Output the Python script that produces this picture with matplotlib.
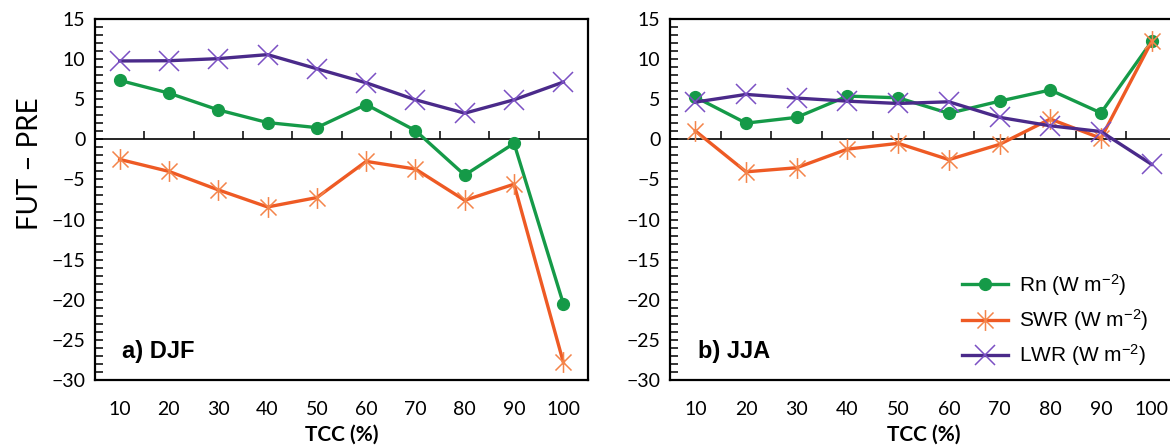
import matplotlib
matplotlib.use("Agg")
import matplotlib.pyplot as plt
from matplotlib.path import Path
from matplotlib.ticker import MultipleLocator

plt.rcParams['font.family'] = ['Lato', 'DejaVu Sans']
plt.rcParams['mathtext.fontset'] = 'custom'
plt.rcParams['mathtext.rm'] = 'Liberation Sans'
plt.rcParams['mathtext.it'] = 'Liberation Sans:italic'

# cloud cover bins
tcc = [10, 20, 30, 40, 50, 60, 70, 80, 90, 100]

# a) DJF
djf_rn = [7.35, 5.76, 3.67, 2.09, 1.46, 4.34, 1.09, -4.46, -0.5, -20.5]
djf_swr = [-2.5, -4.0, -6.3, -8.43, -7.26, -2.75, -3.7, -7.6, -5.59, -27.8]
djf_lwr = [9.77, 9.8, 10.06, 10.56, 8.8, 7.05, 4.93, 3.26, 4.93, 7.14]

# b) JJA
jja_rn = [5.27, 2.02, 2.74, 5.39, 5.18, 3.24, 4.76, 6.15, 3.29, 12.2]
jja_swr = [1.05, -4.05, -3.54, -1.22, -0.5, -2.53, -0.63, 2.53, 0.13, 12.2]
jja_lwr = [4.64, 5.6, 5.14, 4.76, 4.47, 4.68, 2.74, 1.69, 0.97, -3.12]

yticks = list(range(-30, 16, 5))
sep_ticks = [15, 25, 35, 45, 55, 65, 75, 85, 95]

green, orange, purple = '#159A48', '#EE5A24', '#4A2A8A'

# excel-like star marker: an x with a vertical bar through it
star = Path([(-1, -1), (1, 1), (-1, 1), (1, -1), (0, -1.3), (0, 1.3)],
            [Path.MOVETO, Path.LINETO, Path.MOVETO, Path.LINETO, Path.MOVETO, Path.LINETO])

fig = plt.figure(figsize=(11.7, 4.48), dpi=100)
ax1 = fig.add_axes([95 / 1170, 68 / 448, 493 / 1170, 361 / 448])
ax2 = fig.add_axes([670 / 1170, 68 / 448, 507 / 1170, 361 / 448])


def panel(ax, rn, swr, lwr, title):
    ax.plot(tcc, rn, '-', color=green, lw=2.4, marker='o', ms=8.5, mec=green, mfc=green,
            label='Rn (W m$^{-2}$)', zorder=3)
    ax.plot(tcc, swr, '-', color=orange, lw=2.4, marker=star, ms=15, mec='#F4844A', mew=1.1,
            label='SWR (W m$^{-2}$)', zorder=3)
    ax.plot(tcc, lwr, '-', color=purple, lw=2.4, marker='x', ms=15, mec='#7B50C4', mew=1.1,
            label='LWR (W m$^{-2}$)', zorder=3)
    ax.set_xlim(5, 105)
    ax.set_ylim(-30, 15)
    ax.set_yticks(yticks)
    ax.yaxis.set_minor_locator(MultipleLocator(1))
    ax.tick_params(axis='y', which='both', direction='in', length=6, width=1.1, labelsize=14, pad=7)
    ax.set_xticks(tcc)
    ax.tick_params(axis='x', length=0, labelsize=14, pad=15)
    for s in ax.spines.values():
        s.set_linewidth(1.6)
    # category axis crossing at zero
    zero = ax.secondary_xaxis(0, transform=ax.transData)
    zero.set_xticks(sep_ticks)
    zero.tick_params(direction='in', length=6, width=1.1, labelbottom=False)
    zero.spines['bottom'].set_linewidth(1.2)
    ax.set_xlabel('TCC (%)', fontsize=15, fontweight='bold', labelpad=5)
    ax.text(0.055, 0.078, title, transform=ax.transAxes, fontsize=17, fontweight='bold',
            family='Liberation Sans', va='center', ha='left')


panel(ax1, djf_rn, djf_swr, djf_lwr, 'a) DJF')
panel(ax2, jja_rn, jja_swr, jja_lwr, 'b) JJA')

fig.text(30 / 1170, 1 - 164 / 448, 'FUT \u2013 PRE', rotation=90, fontsize=20,
         ha='center', va='center')

ax2.legend(loc='upper left', bbox_to_anchor=(962 / 1170, 1 - 272 / 448),
           bbox_transform=fig.transFigure, frameon=False, borderaxespad=0, borderpad=0,
           handlelength=2.2, handletextpad=0.55, labelspacing=0.45,
           prop={'family': 'Liberation Sans', 'size': 15})

fig.savefig('out.png', dpi=100)
